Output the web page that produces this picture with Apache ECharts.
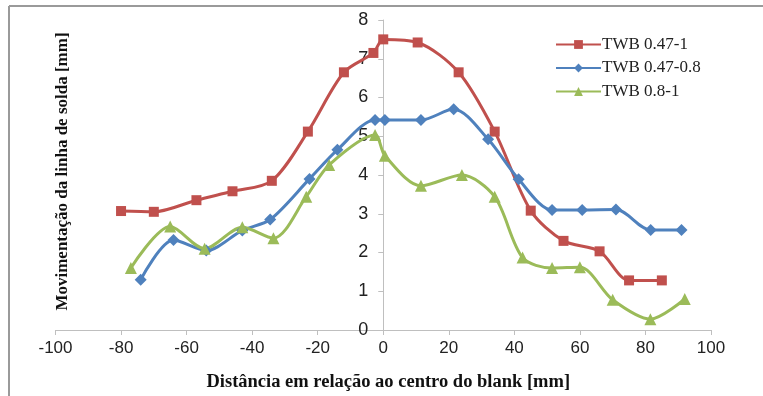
<!DOCTYPE html>
<html>
<head>
<meta charset="utf-8">
<script src="https://cdn.jsdelivr.net/npm/echarts@6/dist/echarts.min.js"></script>
<style>
  html, body { margin: 0; padding: 0; background: #fff; }
  #chart { width: 763px; height: 396px; }
</style>
</head>
<body>
<div id="chart"></div>
<script>
// dados
const seriesNames = ['TWB 0.47-1', 'TWB 0.47-0.8', 'TWB 0.8-1'];

const red = [
  [-80, 3.07], [-70, 3.05], [-57, 3.35], [-46, 3.58], [-34, 3.85], [-23, 5.12],
  [-12, 6.65], [-3, 7.15], [0, 7.5], [10.5, 7.42], [23, 6.65], [34, 5.12],
  [45, 3.08], [55, 2.3], [66, 2.03], [75, 1.28], [85, 1.28]
];
const blue = [
  [-74, 1.3], [-64, 2.32], [-54, 2.05], [-43, 2.57], [-34.5, 2.85], [-22.5, 3.9],
  [-14, 4.65], [-2.5, 5.42], [0.5, 5.42], [11.5, 5.42], [21.5, 5.7], [32, 4.92],
  [41.3, 3.89], [51.5, 3.1], [60.7, 3.1], [71, 3.11], [81.6, 2.58], [91, 2.58]
];
const green = [
  [-77, 1.6], [-65, 2.67], [-54.5, 2.1], [-43, 2.65], [-33.5, 2.37], [-23.5, 3.44],
  [-16.5, 4.26], [-2.5, 5.03], [0.5, 4.5], [11.5, 3.72], [24, 4.0], [34, 3.44],
  [42.5, 1.87], [51.5, 1.6], [60, 1.62], [70, 0.78], [81.5, 0.28], [92, 0.8]
];

const colors = ['#c0504d', '#4f81bd', '#9bbb59'];
const symbols = ['rect', 'diamond', 'triangle'];
const symbolSizes = [10, 12, 12];

const chart = echarts.init(document.getElementById('chart'));

const tickFont = "'Liberation Sans', Arial, sans-serif";
const serif = "'Liberation Serif', 'DejaVu Serif', serif";

// eixo y passa pelo x = 0 (meio do grid)
const gridLeft = 55.5, gridRight = 52;
const yAxisShift = -((763 - gridLeft - gridRight) / 2);

const option = {
  animation: false,
  backgroundColor: '#fff',
  color: colors,
  grid: { left: gridLeft, right: gridRight, top: 20, bottom: 66, containLabel: false, outerBoundsMode: 'none' },
  legend: {
    orient: 'vertical',
    left: 550,
    top: 31,
    itemWidth: 45,
    itemHeight: 11,
    itemGap: 6.5,
    data: seriesNames,
    textStyle: { fontFamily: serif, fontSize: 17, color: '#222', padding: [0, 0, 0, -4] }
  },
  xAxis: {
    type: 'value',
    min: -100,
    max: 100,
    interval: 20,
    name: 'Distância em relação ao centro do blank [mm]',
    nameLocation: 'middle',
    nameGap: 43,
    nameTextStyle: { fontFamily: serif, fontWeight: 'bold', fontSize: 18.5, color: '#111', padding: [0, 0, 0, 10] },
    axisLine: { lineStyle: { color: '#bfbfbf', width: 1 } },
    axisTick: { length: 5, lineStyle: { color: '#bfbfbf' } },
    axisLabel: { fontFamily: tickFont, fontSize: 17, color: '#222', margin: 10 },
    splitLine: { show: false }
  },
  yAxis: {
    type: 'value',
    min: 0,
    max: 8,
    interval: 1,
    offset: yAxisShift,
    name: 'Movimentação da linha de solda [mm]',
    nameLocation: 'middle',
    nameGap: 312,
    nameTextStyle: { fontFamily: serif, fontWeight: 'bold', fontSize: 17, color: '#111', padding: [0, 0, 0, 7] },
    axisLine: { show: true, onZero: false, lineStyle: { color: '#bfbfbf', width: 1 } },
    axisTick: { show: true, length: 5, lineStyle: { color: '#bfbfbf' } },
    axisLabel: { fontFamily: tickFont, fontSize: 18, color: '#222', margin: 15 },
    splitLine: { show: false }
  },
  graphic: [
    { type: 'line', shape: { x1: 9, y1: 6, x2: 763, y2: 6 }, style: { stroke: '#9a9a9a', lineWidth: 2 } },
    { type: 'line', shape: { x1: 9, y1: 6, x2: 9, y2: 396 }, style: { stroke: '#9a9a9a', lineWidth: 2 } }
  ],
  series: [red, blue, green].map((d, i) => ({
    name: seriesNames[i],
    type: 'line',
    data: d,
    smooth: 0.3,
    symbol: symbols[i],
    symbolSize: symbolSizes[i],
    lineStyle: { width: 3, color: colors[i] },
    itemStyle: { color: colors[i] }
  }))
};

chart.setOption(option);
</script>
</body>
</html>
